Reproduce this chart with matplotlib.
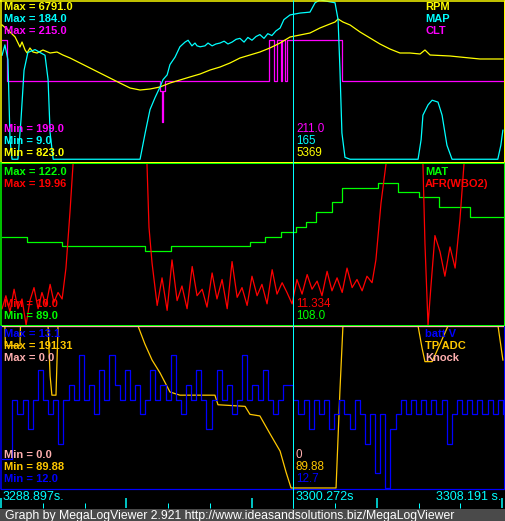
import matplotlib
matplotlib.use("Agg")
import matplotlib.pyplot as plt
from matplotlib.patches import Rectangle

# ---------------- data (time in s, values in native units) ----------------
T_START = 3288.897

rpm_t = [3288.90, 3289.13, 3289.41, 3289.60, 3289.68, 3289.80, 3289.88, 3289.99, 3290.11, 3290.27,
         3290.50, 3290.78, 3291.05, 3291.28, 3291.56, 3291.95, 3292.34, 3292.73, 3293.12, 3293.51,
         3293.91, 3294.30, 3294.69, 3295.08, 3295.47, 3295.86, 3296.25, 3296.65, 3297.04, 3297.43,
         3297.82, 3298.21, 3298.60, 3298.99, 3299.38, 3299.78, 3300.17, 3300.56, 3300.95, 3301.34,
         3301.73, 3301.93, 3302.05, 3302.24, 3302.52, 3302.91, 3303.30, 3303.69, 3304.08, 3304.47,
         3304.86, 3305.26, 3305.45, 3305.65, 3306.43, 3306.82, 3307.60, 3308.50]
rpm_v = [5845, 5663, 5408, 5044, 5226, 4935, 4826, 5008, 4862, 4826,
         4935, 4826, 4862, 4753, 4644, 4462, 4280, 4098, 3916, 3734,
         3552, 3479, 3516, 3589, 3734, 3843, 3953, 4062, 4207, 4316,
         4462, 4644, 4753, 4862, 5008, 5190, 5408, 5481, 5554, 5736,
         5881, 5954, 6063, 5954, 5845, 5590, 5372, 5153, 4971, 4826,
         4826, 4790, 4935, 4753, 4717, 4680, 4608, 4608]

map_t = [3288.90, 3289.01, 3289.13, 3289.21, 3289.29, 3289.52, 3289.64, 3289.76, 3289.91, 3290.19,
         3290.38, 3290.58, 3290.70, 3290.78, 3290.90, 3294.30, 3294.50, 3294.69, 3294.89, 3295.08,
         3295.20, 3295.36, 3295.47, 3295.67, 3295.86, 3296.06, 3296.18, 3296.33, 3296.45, 3296.53,
         3296.65, 3296.84, 3296.96, 3297.12, 3297.27, 3297.43, 3297.59, 3297.74, 3297.90, 3298.06,
         3298.21, 3298.37, 3298.52, 3298.68, 3298.84, 3298.99, 3299.15, 3299.30, 3299.46, 3299.62,
         3299.78, 3299.93, 3300.17, 3300.56, 3300.95, 3301.15, 3301.34, 3301.73, 3301.93, 3302.05,
         3302.12, 3302.20, 3302.32, 3302.52, 3305.18, 3305.30, 3305.37, 3305.57, 3305.73, 3305.96,
         3306.12, 3306.31, 3306.51, 3308.30, 3308.42, 3308.50]
map_v = [124, 135, 119, 34, 13, 13, 55, 108, 127, 130,
         127, 124, 98, 41, 13, 13, 41, 66, 79, 90,
         98, 103, 114, 122, 133, 138, 140, 134, 137, 134,
         133, 134, 137, 134, 136, 137, 139, 136, 138, 141,
         142, 138, 143, 140, 144, 146, 142, 147, 145, 150,
         153, 162, 167, 169, 170, 180, 183, 181, 180, 162,
         111, 41, 15, 13, 13, 34, 60, 71, 76, 74,
         60, 28, 13, 13, 28, 44]

clt_t = [3288.90, 3289.09, 3295.08, 3295.16, 3295.20, 3295.28, 3299.33, 3299.56, 3299.66,
         3299.80, 3299.87, 3299.99, 3300.05, 3302.20, 3308.50]
clt_v = [211, 207, 206, 203, 206, 207, 211, 207, 211,
         207, 211, 207, 211, 207, 207]

mat_t = [3288.90, 3289.88, 3291.25, 3294.50, 3295.50, 3296.65, 3298.60, 3299.20, 3299.80,
         3300.40, 3300.80, 3301.20, 3301.80, 3302.20, 3303.60, 3304.40, 3305.20, 3306.00, 3307.20, 3308.50]
mat_v = [107, 106, 105, 104, 105, 105, 106, 107, 108,
         109, 110, 112, 114, 117, 118, 116, 115, 113, 111, 111]

afr_t = [3288.90, 3289.05, 3289.21, 3289.37, 3289.52, 3289.68, 3289.84, 3289.99, 3290.15, 3290.31,
         3290.46, 3290.62, 3290.78, 3290.93, 3291.09, 3291.25, 3291.40, 3291.56, 3291.68, 3294.57,
         3294.65,
         3294.77, 3294.97, 3295.16, 3295.36, 3295.55, 3295.75, 3295.94, 3296.14, 3296.34, 3296.53,
         3296.73, 3296.92, 3297.12, 3297.31, 3297.51, 3297.71, 3297.90, 3298.10, 3298.29, 3298.49,
         3298.68, 3298.88, 3299.07, 3299.27, 3299.47, 3299.66, 3299.86, 3300.05, 3300.25, 3300.44,
         3300.64, 3300.84, 3301.03, 3301.23, 3301.42, 3301.62, 3301.81, 3302.01, 3302.21, 3302.40,
         3302.60, 3302.79, 3302.99, 3303.18, 3303.38,
         3303.53, 3303.73, 3303.93, 3305.37, 3305.45, 3305.57, 3305.69, 3305.84, 3306.04, 3306.23,
         3306.43, 3306.63, 3306.82, 3306.98, 3308.50]
afr_v = [11.0, 11.8, 10.8, 12.2, 11.0, 11.6, 10.0, 11.5, 12.3, 11.0,
         12.0, 11.2, 12.5, 11.4, 12.0, 11.6, 13.5, 17.0, 19.96, 19.96,
         16.0,
         13.8, 11.2, 12.9, 10.9, 14.0, 11.5, 12.4, 11.0, 13.6, 11.8,
         12.2, 11.1, 13.2, 11.6, 12.8, 11.0, 13.9, 11.7, 12.3, 11.2,
         13.0, 11.8, 12.5, 11.3, 13.4, 11.9, 12.6, 12.0, 11.3, 12.8,
         11.9, 13.1, 12.2, 12.7, 11.8, 13.3, 12.1, 12.9, 12.0, 13.5,
         12.3, 12.8, 12.1, 13.0, 12.6,
         14.0, 17.5, 19.96, 19.96, 15.0, 10.0, 12.5, 15.5, 14.5, 13.0,
         14.8, 13.5, 16.5, 19.96, 19.96]

batt_t = [3288.90, 3289.30, 3289.50, 3289.70, 3289.90, 3290.10, 3290.30, 3290.50, 3290.70, 3290.90,
          3291.10, 3291.30, 3291.50, 3291.70, 3291.90, 3292.10, 3292.30, 3292.50, 3292.70, 3292.90,
          3293.10, 3293.30, 3293.50, 3293.70, 3293.90, 3294.10, 3294.30, 3294.50, 3294.70, 3294.90,
          3295.10, 3295.30, 3295.50, 3295.70, 3295.90, 3296.10, 3296.30, 3296.50, 3296.70, 3296.90,
          3297.10, 3297.30, 3297.50, 3297.70, 3297.90, 3298.10, 3298.30, 3298.50, 3298.70, 3298.90,
          3299.10, 3299.30, 3299.50, 3299.70, 3299.90, 3300.10, 3300.30, 3300.50, 3300.70, 3300.90,
          3301.10, 3301.30, 3301.50, 3301.70, 3301.90, 3302.10, 3302.30, 3302.50, 3302.70, 3302.90,
          3303.10, 3303.30, 3303.50, 3303.70, 3303.90, 3304.10, 3304.30, 3304.50, 3304.70, 3304.90,
          3305.10, 3305.30, 3305.50, 3305.70, 3305.90, 3306.10, 3306.30, 3306.50, 3306.70, 3306.90,
          3307.10, 3307.30, 3307.50, 3307.70, 3307.90, 3308.10, 3308.30, 3308.50]
batt_v = [12.2, 12.6, 12.5, 12.6, 12.4, 12.6, 12.8, 12.6, 12.5, 12.6,
          12.3, 12.6, 12.7, 12.6, 12.9, 12.6, 12.7, 12.5, 12.8, 12.6,
          12.9, 12.7, 12.6, 12.8, 12.6, 12.7, 12.5, 12.6, 12.8, 12.6,
          12.7, 12.6, 12.9, 12.6, 12.5, 12.7, 12.6, 12.8, 12.6, 12.4,
          12.6, 12.8, 12.6, 12.7, 12.5, 12.6, 12.9, 12.6, 12.7, 12.6,
          12.8, 12.6, 12.5, 12.6, 12.7, 12.7, 12.6, 12.5, 12.6, 12.4,
          12.6, 12.5, 12.6, 12.4, 12.5, 12.6, 12.5, 12.4, 12.6, 12.5,
          12.3, 12.5, 12.1, 12.5, 12.0, 12.4, 12.5, 12.6, 12.5, 12.6,
          12.5, 12.6, 12.5, 12.6, 12.5, 12.6, 12.3, 12.5, 12.6, 12.5,
          12.6, 12.5, 12.6, 12.5, 12.6, 12.5, 12.6, 12.5]

tps_t = [3288.90, 3289.01, 3289.03, 3289.60, 3289.62, 3290.70, 3290.78, 3290.85, 3291.01, 3291.09,
         3294.22, 3294.49, 3294.77, 3295.08, 3295.47, 3295.86, 3297.23, 3297.35, 3298.41, 3298.60,
         3298.99, 3299.38, 3299.78, 3300.01, 3300.21, 3301.97, 3302.12, 3302.24, 3305.18, 3305.33,
         3305.45, 3305.73, 3306.04, 3306.35, 3308.31, 3308.50]
tps_v = [191.31, 191.31, 179.0, 179.0, 191.31, 191.31, 160.0, 148.0, 148.0, 191.31,
         191.31, 180.0, 170.0, 162.0, 150.0, 148.0, 148.0, 142.0, 141.0, 136.0,
         135.0, 124.0, 113.0, 100.0, 89.88, 89.88, 150.0, 191.31, 191.31, 178.0,
         169.0, 169.0, 180.0, 191.31, 191.31, 170.0]

knock_t = [3288.90, 3308.50]
knock_v = [0.0, 0.0]

# ranges shown in the panels (min, max)
RPM_R, MAP_R, CLT_R = (823.0, 6791.0), (9.0, 184.0), (199.0, 215.0)
MAT_R, AFR_R = (89.0, 122.0), (10.0, 19.96)
BATT_R, TPS_R, KNOCK_R = (12.0, 13.1), (89.88, 191.31), (0.0, 0.0)

# ---------------- layout ----------------
W, H = 505, 521
fig = plt.figure(figsize=(W / 100, H / 100), dpi=100, facecolor="black")

SEC_PER_PX = 19.294 / 493.0
def px2t(x):
    return T_START + (x - 2) * SEC_PER_PX

def panel(y0, y1, vtop_px, vbot_px):
    ax = fig.add_axes([0, 1 - y1 / H, 1, (y1 - y0) / H])
    ax.set_facecolor("black")
    ax.set_xlim(px2t(0), px2t(W))
    span = vbot_px - vtop_px
    ax.set_ylim((vbot_px - y1) / span, (vbot_px - y0) / span)
    ax.axis("off")
    return ax

def norm(vals, r):
    lo, hi = r
    if hi == lo:
        return [1.0 for _ in vals]
    return [(v - lo) / (hi - lo) for v in vals]

lw = 0.9
YEL, CYN, MAG = "#ffff00", "#00ffff", "#ff00ff"
GRN, RED = "#00ff00", "#ff0000"
BLU, ORG, PNK = "#0000ff", "#ffc800", "#ffafaf"

a1 = panel(0, 162, -1, 163)
a1.plot(clt_t, norm(clt_v, CLT_R), color=MAG, lw=lw, drawstyle="steps-post")
a1.plot(rpm_t, norm(rpm_v, RPM_R), color=YEL, lw=lw)
a1.plot(map_t, norm(map_v, MAP_R), color=CYN, lw=lw)

a2 = panel(162, 326, 163, 325)
a2.plot(mat_t, norm(mat_v, MAT_R), color=GRN, lw=lw, drawstyle="steps-post")
a2.plot(afr_t, norm(afr_v, AFR_R), color=RED, lw=lw)

a3 = panel(325, 489, 326, 488)
a3.plot(tps_t, norm(tps_v, TPS_R), color=ORG, lw=lw)
a3.plot(batt_t, norm(batt_v, BATT_R), color=BLU, lw=lw, drawstyle="steps-post")
a3.plot(knock_t, norm(knock_v, KNOCK_R), color=PNK, lw=lw)

# ---------------- overlay (pixel coords) ----------------
ov = fig.add_axes([0, 0, 1, 1], facecolor="none")
ov.set_xlim(0, W)
ov.set_ylim(H, 0)
ov.axis("off")

def hline(y, x0, x1, c, w=1.0):
    ov.plot([x0, x1], [y, y], color=c, lw=w * 0.72, solid_capstyle="butt")
def vline(x, y0, y1, c, w=1.0):
    ov.plot([x, x], [y0, y1], color=c, lw=w * 0.72, solid_capstyle="butt")

hline(0.5, 0, 505, YEL, 1.5); vline(0.8, 0, 162, YEL, 1.5); vline(503.5, 0, 162, YEL); hline(161.5, 0, 505, YEL)
hline(163.0, 0, 505, GRN); vline(1.0, 162, 325, GRN, 1.5); vline(503.5, 162, 325, GRN); hline(324.5, 0, 505, GRN)
vline(1.0, 326, 489, BLU, 1.5); vline(503.5, 326, 489, BLU); hline(488.5, 0, 505, BLU, 1.2)

vline(292.5, 0, 508, CYN)

for i in range(13):
    x = 1 + i * 41.75
    tall = (i % 3 == 0)
    vline(x, 497.5 if tall else 503, 508, CYN, 1.5 if tall else 1.0)

ov.add_patch(Rectangle((0, 508.5), W, 13, facecolor="#4a4a4a", edgecolor="none"))
ov.text(5, 515.5, "Graph by MegaLogViewer 2.921 http://www.ideasandsolutions.biz/MegaLogViewer",
        color="white", fontsize=8.85, family="Liberation Sans", va="center", ha="left")

BFS = 8.0
def bt(x, y, s, c, ha="left"):
    ov.text(x, y, s, color=c, fontsize=BFS, fontweight="bold", family="Liberation Sans",
            va="center", ha=ha)
def rt(x, y, s, c, ha="left", fs=8.4):
    ov.text(x, y, s, color=c, fontsize=fs, family="Liberation Sans", va="center", ha=ha)

bt(4, 7, "Max = 6791.0", YEL); bt(4, 19, "Max = 184.0", CYN); bt(4, 31, "Max = 215.0", MAG)
bt(4, 129, "Min = 199.0", MAG); bt(4, 141, "Min = 9.0", CYN); bt(4, 153, "Min = 823.0", YEL)
bt(425, 7, "RPM", YEL); bt(425, 19, "MAP", CYN); bt(425, 31, "CLT", MAG)
rt(296, 129, "211.0", MAG); rt(296, 141, "165", CYN); rt(296, 153, "5369", YEL)

bt(4, 172, "Max = 122.0", GRN); bt(4, 184, "Max = 19.96", RED)
bt(4, 304, "Min = 10.0", RED); bt(4, 316, "Min = 89.0", GRN)
bt(425, 172, "MAT", GRN); bt(425, 184, "AFR(WBO2)", RED)
rt(296, 304, "11.334", RED); rt(296, 316, "108.0", GRN)

bt(4, 334, "Max = 13.1", BLU); bt(4, 346, "Max = 191.31", ORG); bt(4, 358, "Max = 0.0", PNK)
bt(4, 455, "Min = 0.0", PNK); bt(4, 467, "Min = 89.88", ORG); bt(4, 479, "Min = 12.0", BLU)
bt(425, 334, "batt V", BLU); bt(425, 346, "TP ADC", ORG); bt(425, 358, "Knock", PNK)
rt(296, 455, "0", PNK); rt(296, 467, "89.88", ORG); rt(296, 479, "12.7", BLU)

rt(3, 497, "3288.897s.", CYN, fs=9.0); rt(296, 497, "3300.272s", CYN, fs=9.0)
rt(501, 497, "3308.191 s.", CYN, ha="right", fs=9.0)

fig.savefig("out.png", dpi=100, facecolor="black")
